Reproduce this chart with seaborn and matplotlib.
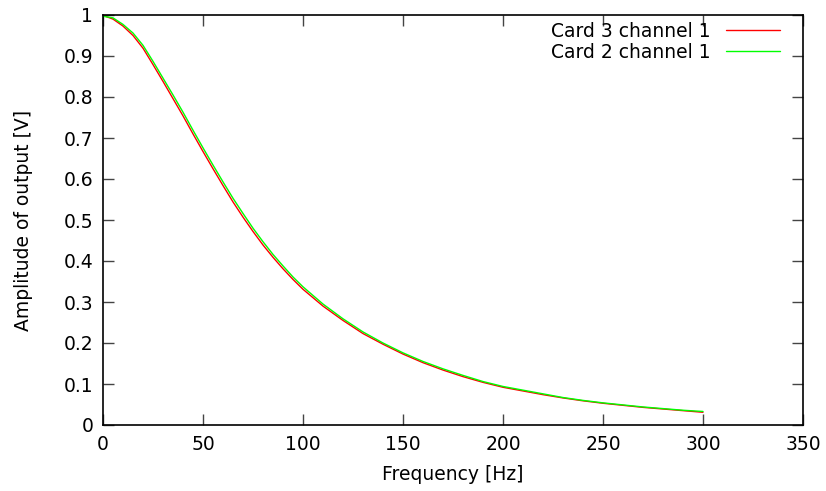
import matplotlib
matplotlib.use("Agg")
import matplotlib.pyplot as plt
import seaborn as sns
import pandas as pd

freq = [0, 5, 10, 15, 20, 25, 30, 35, 40, 45, 50, 55, 60, 65, 70, 75, 80, 85,
        90, 95, 100, 110, 120, 130, 140, 150, 160, 170, 180, 190, 200, 210,
        220, 230, 240, 250, 260, 270, 280, 290, 300]
card3 = [0.999, 0.990, 0.973, 0.950, 0.919, 0.879, 0.838, 0.796, 0.754, 0.710,
         0.667, 0.625, 0.584, 0.544, 0.507, 0.472, 0.439, 0.409, 0.381, 0.355,
         0.331, 0.290, 0.255, 0.223, 0.197, 0.173, 0.152, 0.134, 0.118, 0.104,
         0.092, 0.083, 0.074, 0.066, 0.059, 0.053, 0.048, 0.043, 0.039, 0.035,
         0.031]
card2 = [0.997, 0.993, 0.977, 0.956, 0.926, 0.887, 0.846, 0.805, 0.763, 0.719,
         0.676, 0.634, 0.593, 0.553, 0.516, 0.480, 0.447, 0.416, 0.388, 0.361,
         0.337, 0.295, 0.259, 0.227, 0.200, 0.176, 0.155, 0.137, 0.121, 0.106,
         0.094, 0.085, 0.076, 0.067, 0.060, 0.054, 0.049, 0.044, 0.040, 0.036,
         0.033]
series_names = ["Card 3 channel 1", "Card 2 channel 1"]
colors = ["#ff0000", "#00ff00"]
xticks = [0, 50, 100, 150, 200, 250, 300, 350]
yticks = [0, 0.1, 0.2, 0.3, 0.4, 0.5, 0.6, 0.7, 0.8, 0.9, 1]
ytick_labels = ["0", "0.1", "0.2", "0.3", "0.4", "0.5", "0.6", "0.7", "0.8", "0.9", "1"]

df = pd.concat([
    pd.DataFrame({"Frequency": freq, "Amplitude": card3, "Series": series_names[0]}),
    pd.DataFrame({"Frequency": freq, "Amplitude": card2, "Series": series_names[1]}),
])

sns.set_style("ticks")
plt.rcParams["font.family"] = ["DejaVu Sans"]
plt.rcParams["text.color"] = "black"
plt.rcParams["axes.labelcolor"] = "black"
plt.rcParams["xtick.color"] = "black"
plt.rcParams["ytick.color"] = "black"

FS = 13.5
fig = plt.figure(figsize=(8.26, 4.91), dpi=100)
ax = fig.add_axes([103 / 826, 66 / 491, 700 / 826, 410 / 491])

sns.lineplot(data=df, x="Frequency", y="Amplitude", hue="Series",
             palette=dict(zip(series_names, colors)), linewidth=1.0,
             ax=ax, sort=False)

ax.set_xlim(0, 350)
ax.set_ylim(0, 1)
ax.set_xticks(xticks)
ax.set_xticklabels([str(t) for t in xticks])
ax.set_yticks(yticks)
ax.set_yticklabels(ytick_labels)
ax.tick_params(direction="in", length=8, width=1, top=True, right=True,
               labelsize=FS, color="#444444", labelcolor="black", pad=7)
for s in ax.spines.values():
    s.set_visible(True)
    s.set_color("black")
    s.set_linewidth(1.2)

ax.set_xlabel("Frequency [Hz]", fontsize=FS, labelpad=8)
ax.set_ylabel("Amplitude of output [V]", fontsize=FS, labelpad=22)

leg = ax.legend(loc="upper right", frameon=False, markerfirst=False,
                fontsize=FS, handlelength=2.9, handletextpad=0.8,
                borderpad=0, borderaxespad=0, labelspacing=0.08,
                bbox_to_anchor=(780 / 826, (491 - 22) / 491),
                bbox_transform=fig.transFigure)
for t in leg.get_texts():
    t.set_ha("right")

fig.savefig("out.png", dpi=100)
